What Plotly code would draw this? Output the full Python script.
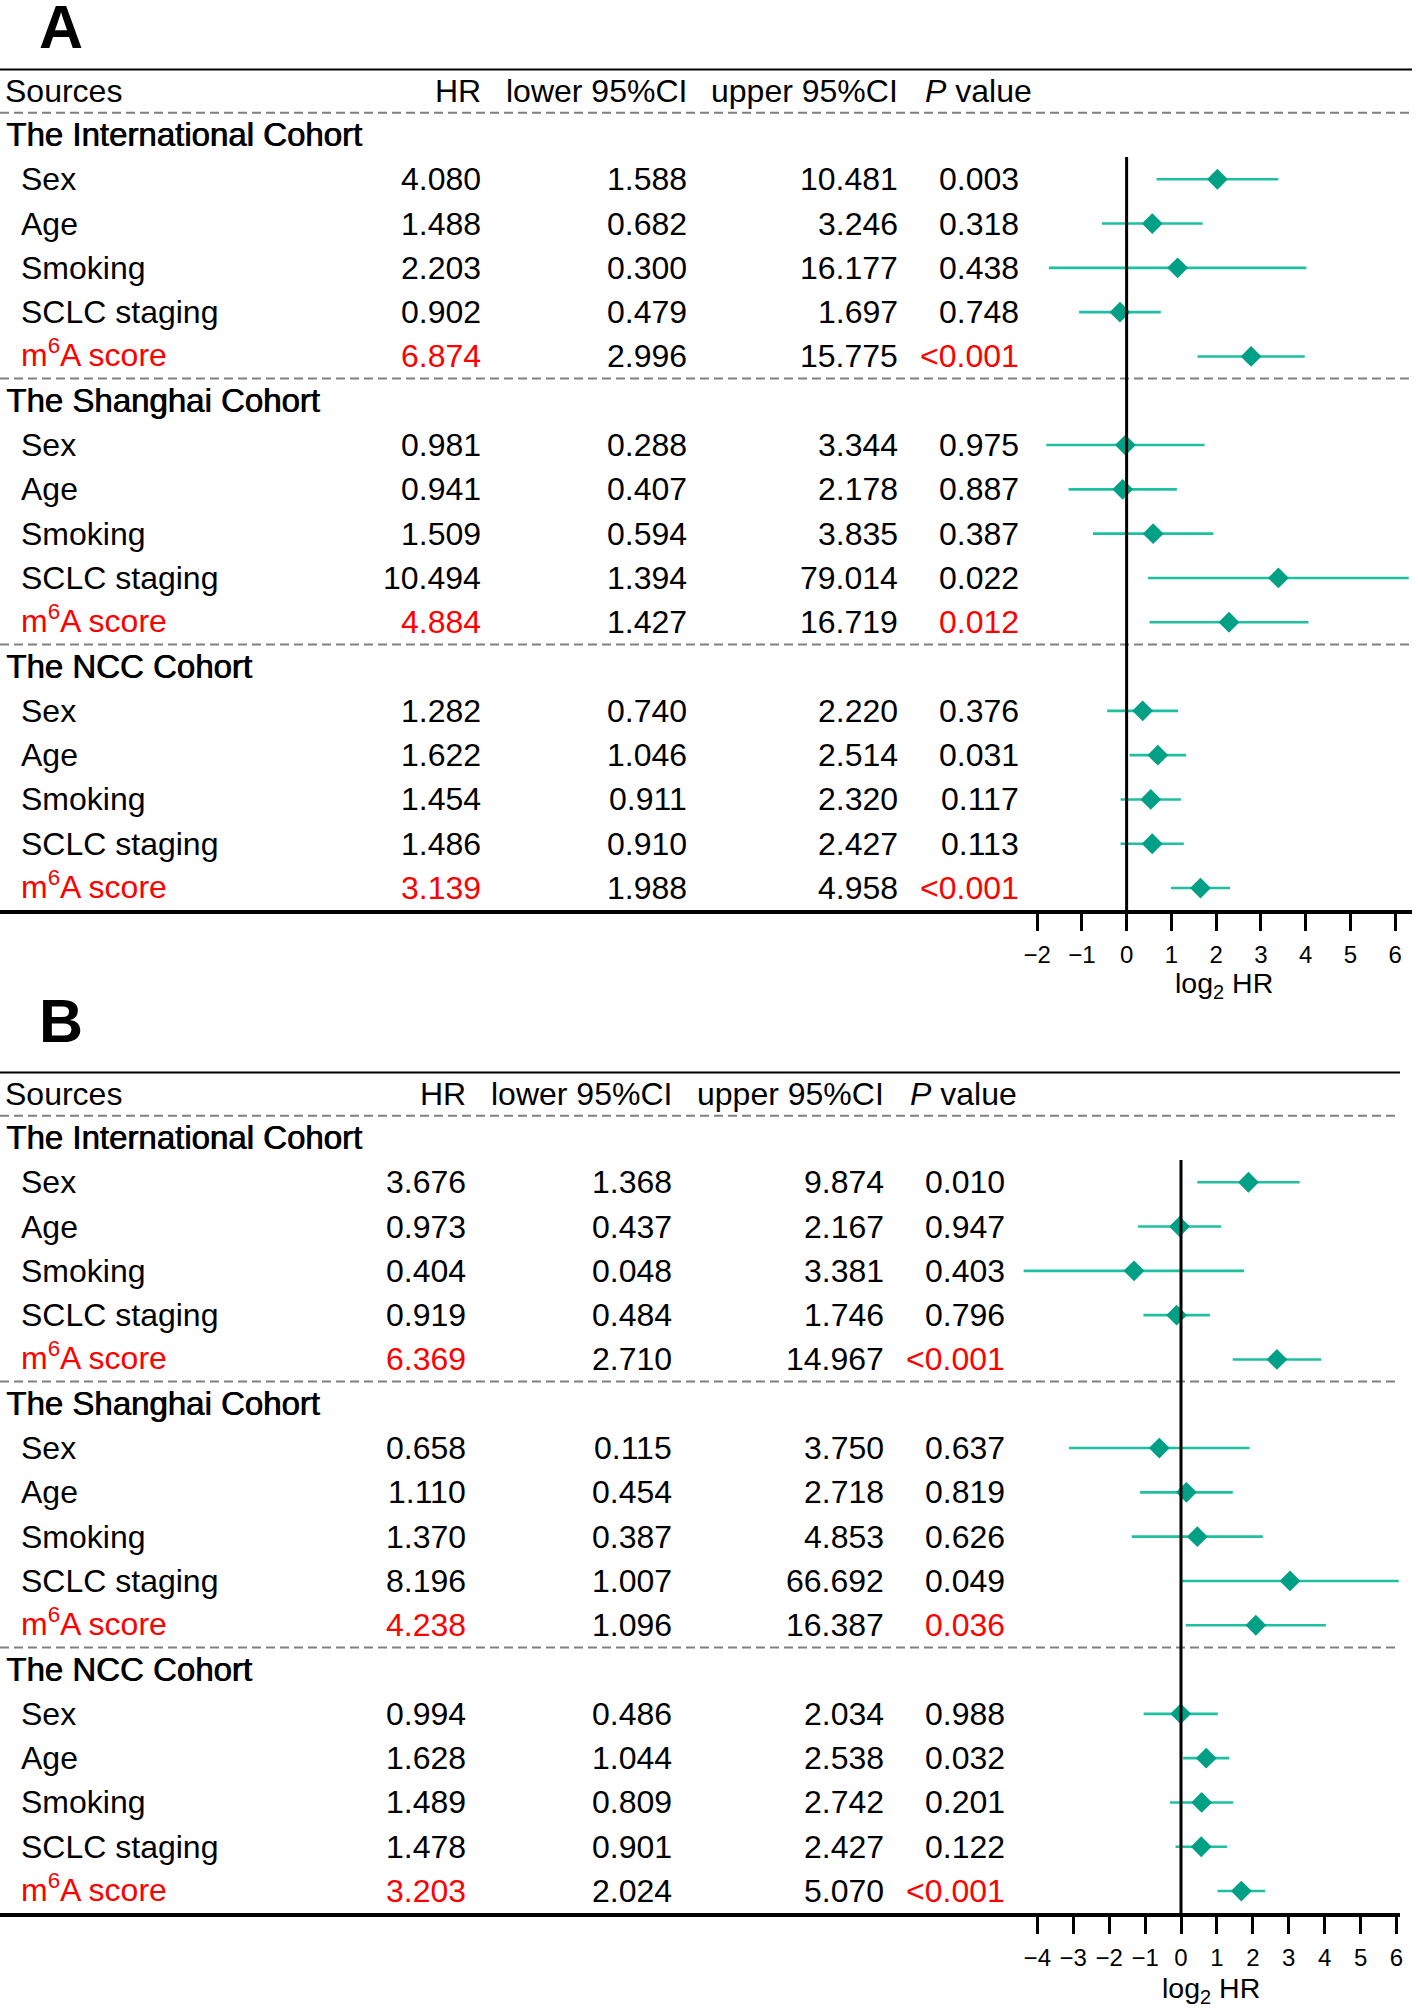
import numpy as np
import plotly.graph_objects as go

# ---------------- data ----------------
cohorts = ["The International Cohort", "The Shanghai Cohort", "The NCC Cohort"]
variables = ["Sex", "Age", "Smoking", "SCLC staging", "m<sup>6</sup>A score"]
highlight_var = "m<sup>6</sup>A score"
headers = ["Sources", "HR", "lower 95%CI", "upper 95%CI", "<i>P</i> value"]

a_hr = [4.080, 1.488, 2.203, 0.902, 6.874,
        0.981, 0.941, 1.509, 10.494, 4.884,
        1.282, 1.622, 1.454, 1.486, 3.139]
a_lower = [1.588, 0.682, 0.300, 0.479, 2.996,
           0.288, 0.407, 0.594, 1.394, 1.427,
           0.740, 1.046, 0.911, 0.910, 1.988]
a_upper = [10.481, 3.246, 16.177, 1.697, 15.775,
           3.344, 2.178, 3.835, 79.014, 16.719,
           2.220, 2.514, 2.320, 2.427, 4.958]
a_p = ["0.003", "0.318", "0.438", "0.748", "<0.001",
       "0.975", "0.887", "0.387", "0.022", "0.012",
       "0.376", "0.031", "0.117", "0.113", "<0.001"]

b_hr = [3.676, 0.973, 0.404, 0.919, 6.369,
        0.658, 1.110, 1.370, 8.196, 4.238,
        0.994, 1.628, 1.489, 1.478, 3.203]
b_lower = [1.368, 0.437, 0.048, 0.484, 2.710,
           0.115, 0.454, 0.387, 1.007, 1.096,
           0.486, 1.044, 0.809, 0.901, 2.024]
b_upper = [9.874, 2.167, 3.381, 1.746, 14.967,
           3.750, 2.718, 4.853, 66.692, 16.387,
           2.034, 2.538, 2.742, 2.427, 5.070]
b_p = ["0.010", "0.947", "0.403", "0.796", "<0.001",
       "0.637", "0.819", "0.626", "0.049", "0.036",
       "0.988", "0.032", "0.201", "0.122", "<0.001"]

a_ticks = [-2, -1, 0, 1, 2, 3, 4, 5, 6]
b_ticks = [-4, -3, -2, -1, 0, 1, 2, 3, 4, 5, 6]

# ---------------- style / layout ----------------
W, H = 1418, 2008
ROW = 44.3
FONT = "Liberation Sans, Arial, Helvetica, sans-serif"
FS = 32
RED = "#FF0000"
CI_COLOR = "#1FC0A0"
PT_COLOR = "#00A087"
DASH_COLOR = "#808080"

panels = [
    dict(letter="A", hr=a_hr, lo=a_lower, up=a_upper, p=a_p, ticks=a_ticks,
         top=68.5, right=1415, zero=1129.0, unit=44.85,
         cols=dict(label=21.5, hr=482, lo=688, up=899.5, p=1021, phead=927),
         letter_xy=(61, 26.5), title_xy=(1227, 985)),
    dict(letter="B", hr=b_hr, lo=b_lower, up=b_upper, p=b_p, ticks=b_ticks,
         top=1071.5, right=1403, zero=1183.5, unit=36.0,
         cols=dict(label=21.5, hr=467, lo=673, up=886, p=1007.5, phead=912),
         letter_xy=(61, 1021), title_xy=(1214, 1990)),
]

n_var = len(variables)
group_size = n_var + 1
n_rows = len(cohorts) * group_size
y_top = -1.5
y_bottom = n_rows - 0.5

fig = go.Figure()
annotations = []
shapes = []


def ptext(px):
    return px / W


for i, pn in enumerate(panels):
    sfx = "" if i == 0 else str(i + 1)
    xa, ya = "x" + sfx, "y" + sfx
    xkey, ykey = "xaxis" + sfx, "yaxis" + sfx

    row_k = [g * group_size + 1 + j for g in range(len(cohorts)) for j in range(n_var)]
    lhr = np.log2(np.array(pn["hr"]))
    llo = np.log2(np.array(pn["lo"]))
    lup = np.log2(np.array(pn["up"]))

    xs, ys = [], []
    for k, lo, up in zip(row_k, llo, lup):
        xs += [lo, up, None]
        ys += [k, k, None]
    fig.add_trace(go.Scatter(x=xs, y=ys, mode="lines", xaxis=xa, yaxis=ya,
                             line=dict(color=CI_COLOR, width=2.6),
                             hoverinfo="skip", showlegend=False))
    fig.add_trace(go.Scatter(x=lhr, y=row_k, mode="markers", xaxis=xa, yaxis=ya,
                             marker=dict(symbol="diamond", size=16, color=PT_COLOR,
                                         line=dict(width=0)),
                             showlegend=False))

    height_px = (y_bottom - y_top) * ROW
    dom_top = 1 - pn["top"] / H
    dom_bot = 1 - (pn["top"] + height_px) / H
    x_lo = (0 - pn["zero"]) / pn["unit"]
    x_hi = (pn["right"] - pn["zero"]) / pn["unit"]

    fig.update_layout(**{
        xkey: dict(domain=[0, pn["right"] / W], range=[x_lo, x_hi], anchor=ya,
                   showgrid=False, zeroline=False, showline=True, linewidth=4,
                   linecolor="black", ticks="outside", ticklen=17, tickwidth=3,
                   tickcolor="black", tickvals=pn["ticks"],
                   ticktext=[str(t).replace("-", "\u2212") for t in pn["ticks"]],
                   tickfont=dict(family=FONT, size=24, color="black"),
                   ticklabelstandoff=3, fixedrange=True),
        ykey: dict(domain=[dom_bot, dom_top], range=[y_bottom, y_top], anchor=xa,
                   visible=False, fixedrange=True),
    })

    xr = pn["right"] / W
    shapes.append(dict(type="line", xref="paper", yref=ya, x0=0, x1=xr,
                       y0=y_top, y1=y_top, line=dict(color="black", width=4)))
    for yk in [-0.5] + [g * group_size - 0.5 for g in range(1, len(cohorts))]:
        shapes.append(dict(type="line", xref="paper", yref=ya, x0=0, x1=xr,
                           y0=yk, y1=yk,
                           line=dict(color=DASH_COLOR, width=2, dash="9px,5px")))
    shapes.append(dict(type="line", xref=xa, yref=ya, x0=0, x1=0,
                       y0=0.5, y1=y_bottom, line=dict(color="black", width=3)))

    def add_text(txt, x, y, anchor, color="black", size=FS, shadow=None, yshift=0):
        f = dict(family=FONT, size=size, color=color)
        if shadow:
            f["shadow"] = shadow
        annotations.append(dict(text=txt, x=ptext(x), y=y, xref="paper", yref=ya,
                                xanchor=anchor, yanchor="middle", showarrow=False,
                                font=f, borderpad=0, borderwidth=0, yshift=yshift))

    c = pn["cols"]
    add_text(headers[0], 5, -1, "left")
    add_text(headers[1], c["hr"], -1, "right")
    add_text(headers[2], c["lo"], -1, "right")
    add_text(headers[3], c["up"], -1, "right")
    add_text(headers[4], c["phead"], -1, "left")

    idx = 0
    for g, coh in enumerate(cohorts):
        add_text(coh, 6, g * group_size, "left", size=33, shadow="0.8px 0 0 #000")
        for j, var in enumerate(variables):
            k = g * group_size + 1 + j
            col = RED if var == highlight_var else "black"
            ys_ = 3 if "<sup>" in var else 0
            add_text(var, c["label"], k, "left", color=col, yshift=ys_)
            add_text(f"{pn['hr'][idx]:.3f}", c["hr"], k, "right", color=col)
            add_text(f"{pn['lo'][idx]:.3f}", c["lo"], k, "right")
            add_text(f"{pn['up'][idx]:.3f}", c["up"], k, "right")
            add_text(pn["p"][idx], c["p"], k, "right", color=col)
            idx += 1

    lx, ly = pn["letter_xy"]
    annotations.append(dict(text="<b>" + pn["letter"] + "</b>", x=lx / W, y=1 - ly / H,
                            xref="paper", yref="paper", xanchor="center",
                            yanchor="middle", showarrow=False,
                            font=dict(family=FONT, size=61, color="black")))
    tx, ty = pn["title_xy"]
    annotations.append(dict(text="log<sub>2</sub> HR", x=tx / W, y=1 - ty / H,
                            xref="paper", yref="paper", xanchor="center",
                            yanchor="middle", showarrow=False,
                            font=dict(family=FONT, size=28.5, color="black")))

fig.update_layout(width=W, height=H, margin=dict(l=0, r=0, t=0, b=0),
                  paper_bgcolor="white", plot_bgcolor="rgba(0,0,0,0)",
                  annotations=annotations, shapes=shapes, showlegend=False,
                  font=dict(family=FONT, color="black"))

fig.write_html("out.html",
               config={"displayModeBar": False},
               post_script="document.body.style.margin='0px';"
                           "document.body.style.overflow='hidden';")
